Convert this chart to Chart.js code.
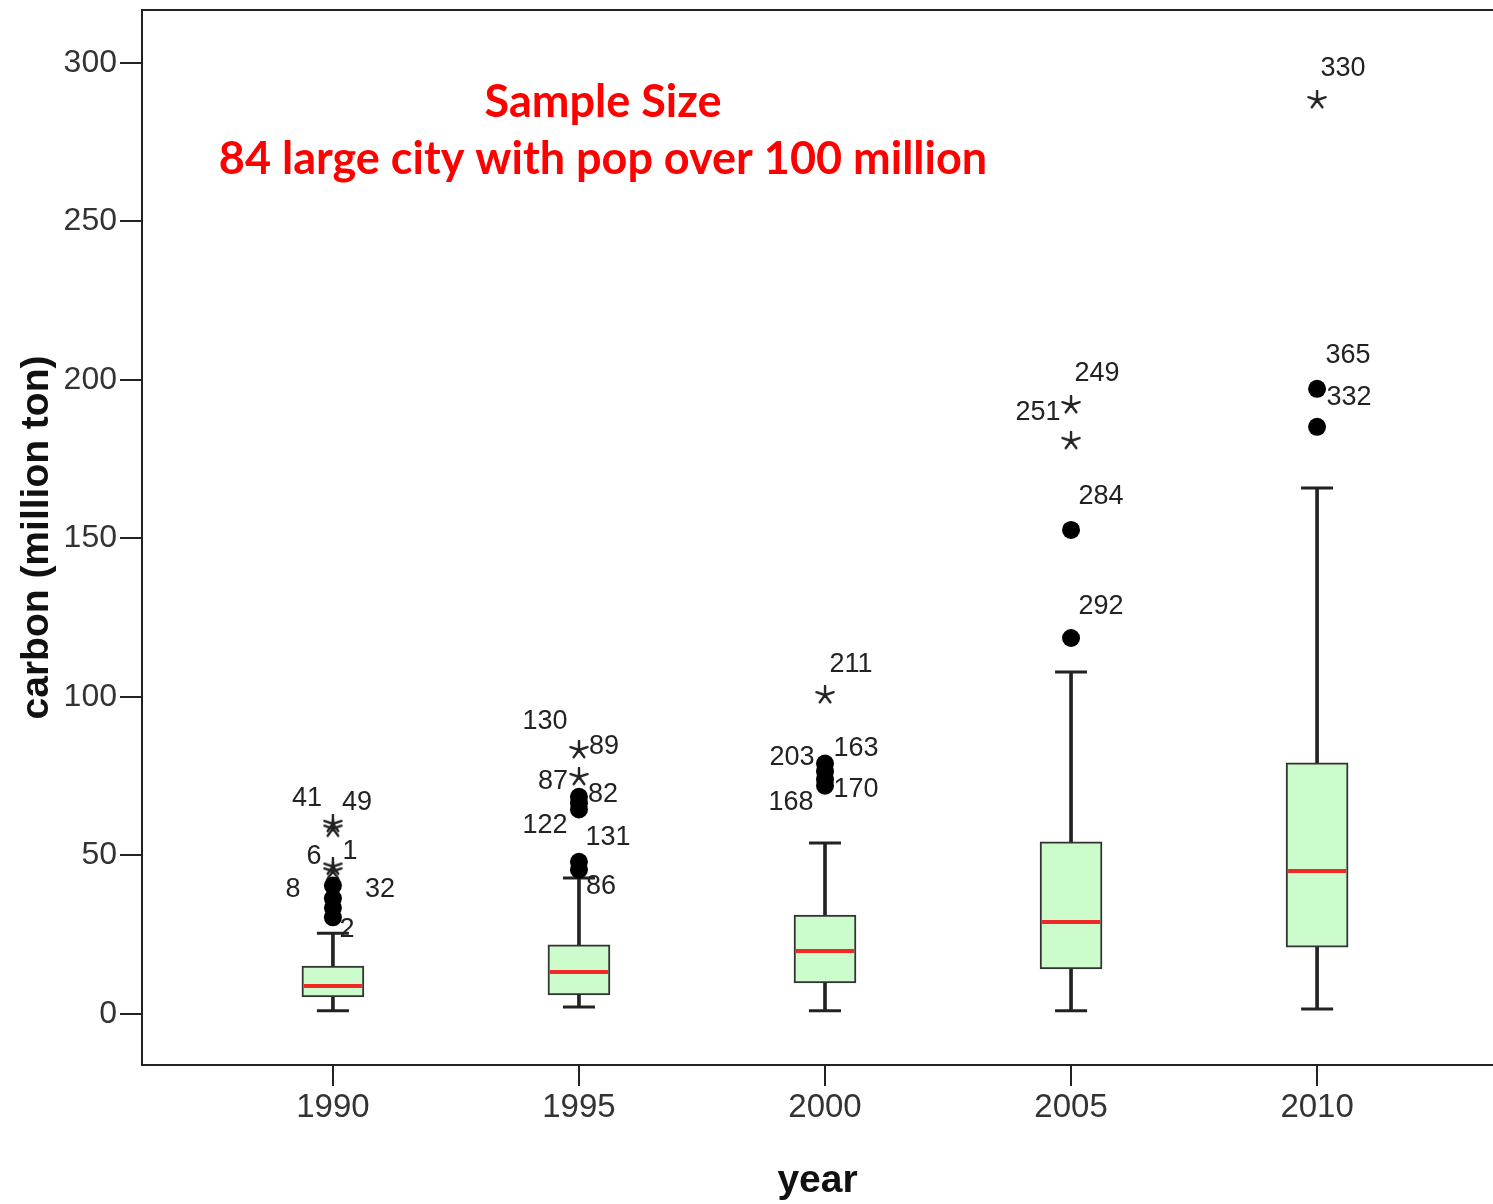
<!DOCTYPE html>
<html>
<head>
<meta charset="utf-8">
<script src="https://cdn.jsdelivr.net/npm/chart.js@4"></script>
<style>
  html, body { margin: 0; padding: 0; background: #fff; }
  #chart { display: block; }
</style>
</head>
<body>
<canvas id="chart" width="1493" height="1204"></canvas>
<script>
// box plot of carbon emissions per year (SPSS style)

const years = ["1990", "1995", "2000", "2005", "2010"];

const whiskerLow  = [1.0, 2.2, 1.0, 1.0, 1.6];
const q1          = [5.4, 6.0, 9.8, 14.2, 21.1];
const median      = [8.8, 13.2, 19.9, 29.0, 45.1];
const q3          = [15.1, 21.8, 31.2, 54.3, 79.2];
const whiskerHigh = [25.5, 42.9, 53.9, 107.9, 165.9];

// outliers (circles): [year index, value]
const outliers = [
  [0, 40.5], [0, 36.5], [0, 33.5], [0, 30.5],
  [1, 68.5], [1, 66.5], [1, 64.5], [1, 48.0], [1, 45.5],
  [2, 79.0], [2, 76.5], [2, 74.0], [2, 72.0],
  [3, 152.7], [3, 118.6],
  [4, 197.2], [4, 185.2],
];

// extremes (stars): [year index, value]
const extremes = [
  [0, 60.0], [0, 58.5], [0, 46.5], [0, 45.0],
  [1, 83.3], [1, 74.8],
  [2, 100.6],
  [3, 192.1], [3, 180.8],
  [4, 288.3],
];

// case labels: [year index, value at label, case id]
const caseLabels = [
  [0, 68.1, "41"], [0, 66.6, "49"], [0, 49.8, "6"], [0, 51.1, "1"],
  [0, 39.4, "8"], [0, 39.4, "32"], [0, 26.5, "2"],
  [1, 92.4, "130"], [1, 84.2, "89"], [1, 73.2, "87"], [1, 69.1, "82"],
  [1, 59.3, "122"], [1, 55.5, "131"], [1, 40.1, "86"],
  [2, 110.1, "211"], [2, 80.8, "203"], [2, 83.6, "163"], [2, 66.6, "168"], [2, 70.7, "170"],
  [3, 201.9, "249"], [3, 189.6, "251"], [3, 163.1, "284"], [3, 128.4, "292"],
  [4, 298.1, "330"], [4, 207.6, "365"], [4, 194.6, "332"],
];
// horizontal pixel offset of each case label from its box centre
const caseLabelDx = [
  -26, 24, -19, 17, -40, 47, 14,
  -34, 25, -26, 24, -34, 29, 22,
  26, -33, 31, -34, 31,
  26, -33, 30, 30,
  26, 31, 32,
];

const titleLines = ["Sample Size", "84 large city with pop over 100 million"];

const INK = "#222";
const BOX_FILL = "#ccfccc";
const MEDIAN = "#f02828";

function makeStar(size) {
  const c = document.createElement("canvas");
  c.width = size; c.height = size;
  const g = c.getContext("2d");
  const r = size / 2 - 1;
  g.strokeStyle = INK;
  g.lineWidth = 2.4;
  g.lineCap = "round";
  g.beginPath();
  for (let k = 0; k < 5; k++) {
    const a = -Math.PI / 2 + k * 2 * Math.PI / 5;
    g.moveTo(size / 2, size / 2);
    g.lineTo(size / 2 + r * Math.cos(a), size / 2 + r * Math.sin(a));
  }
  g.stroke();
  return c;
}

// scales keep their own fixed size, no extra label padding
const noPad = (s) => { s.paddingTop = 0; s.paddingBottom = 0; s.paddingLeft = 0; s.paddingRight = 0; };

const frame = {
  id: "frame",
  afterDraw(chart) {
    const { ctx, chartArea } = chart;
    ctx.save();
    ctx.strokeStyle = INK;
    ctx.lineWidth = 2;
    ctx.beginPath();
    ctx.moveTo(chartArea.left, chartArea.top);
    ctx.lineTo(chartArea.right, chartArea.top);
    ctx.stroke();
    ctx.restore();
  },
};

const caseText = {
  id: "caseText",
  afterDatasetsDraw(chart) {
    const { ctx } = chart;
    const xs = chart.scales.x, ys = chart.scales.y;
    ctx.save();
    ctx.font = "27px 'Liberation Sans', Arial, sans-serif";
    ctx.fillStyle = INK;
    ctx.textAlign = "center";
    ctx.textBaseline = "middle";
    caseLabels.forEach(([i, v, id], k) => {
      ctx.fillText(id, xs.getPixelForValue(i) + caseLabelDx[k], ys.getPixelForValue(v));
    });
    ctx.restore();
  },
};

const sampleTitle = {
  id: "sampleTitle",
  afterDraw(chart) {
    const { ctx } = chart;
    ctx.save();
    ctx.fillStyle = "#ff0000";
    ctx.textAlign = "center";
    ctx.textBaseline = "middle";
    ctx.font = "bold 100px Lato, 'Open Sans', sans-serif";
    const size = Math.round(100 * 760 / ctx.measureText(titleLines[1]).width);
    ctx.font = `bold ${size}px Lato, 'Open Sans', sans-serif`;
    ctx.fillText(titleLines[0], 603, 102);
    ctx.fillText(titleLines[1], 603, 159);
    ctx.restore();
  },
};

const tickFont = { family: "'Liberation Sans', Arial, sans-serif", size: 32 };

new Chart(document.getElementById("chart"), {
  type: "bar",
  data: {
    datasets: [
      {
        label: "whisker",
        data: years.map((_, i) => ({ x: i, y: [whiskerLow[i], whiskerHigh[i]] })),
        backgroundColor: INK,
        borderWidth: 0,
        barThickness: 3,
        grouped: false,
        order: 5,
      },
      {
        label: "box",
        data: years.map((_, i) => ({ x: i, y: [q1[i], q3[i]] })),
        backgroundColor: BOX_FILL,
        borderColor: "#333",
        borderWidth: 2,
        borderSkipped: false,
        barThickness: 62,
        grouped: false,
        order: 4,
      },
      {
        type: "scatter",
        label: "caps",
        data: years.flatMap((_, i) => [{ x: i, y: whiskerLow[i] }, { x: i, y: whiskerHigh[i] }]),
        pointStyle: "line",
        pointRadius: 16,
        borderColor: INK,
        borderWidth: 3,
        order: 3,
      },
      {
        type: "scatter",
        label: "median",
        data: years.map((_, i) => ({ x: i, y: median[i] })),
        pointStyle: "line",
        pointRadius: 29,
        borderColor: MEDIAN,
        borderWidth: 4,
        order: 2,
      },
      {
        type: "scatter",
        label: "outliers",
        data: outliers.map(([i, v]) => ({ x: i, y: v })),
        pointStyle: "circle",
        pointRadius: 9,
        backgroundColor: "#000",
        borderColor: "#000",
        borderWidth: 0,
        order: 1,
      },
      {
        type: "scatter",
        label: "extremes",
        data: extremes.map(([i, v]) => ({ x: i, y: v })),
        pointStyle: makeStar(20),
        order: 1,
      },
    ],
  },
  options: {
    responsive: false,
    animation: false,
    layout: { autoPadding: false, padding: { top: 10, right: 0, left: 0, bottom: 0 } },
    plugins: {
      legend: { display: false },
      tooltip: { enabled: false },
    },
    scales: {
      x: {
        type: "linear",
        offset: false,
        min: -0.776,
        max: 4.715,
        afterBuildTicks: (s) => { s.ticks = years.map((_, i) => ({ value: i })); },
        afterFit: (s) => { s.height = 139; noPad(s); },
        ticks: { callback: (v) => years[v], font: { ...tickFont, size: 33 }, color: "#333", padding: 2, maxRotation: 0 },
        grid: { offset: false, drawOnChartArea: false, drawTicks: true, tickLength: 21, color: INK, lineWidth: 2 },
        border: { display: true, color: INK, width: 2 },
        title: {
          display: true, text: "year", color: "#111",
          font: { family: "'Liberation Sans', Arial, sans-serif", size: 39, weight: "bold", lineHeight: 1 },
          padding: { top: 0, bottom: 3 },
        },
      },
      y: {
        min: -16.1,
        max: 316.7,
        afterBuildTicks: (s) => { s.ticks = [0, 50, 100, 150, 200, 250, 300].map((v) => ({ value: v })); },
        afterFit: (s) => { s.width = 142; noPad(s); },
        ticks: { font: tickFont, color: "#333", padding: 3 },
        grid: { drawOnChartArea: false, drawTicks: true, tickLength: 22, color: INK, lineWidth: 2 },
        border: { display: true, color: INK, width: 2 },
        title: {
          display: true, text: "carbon (million ton)", color: "#111",
          font: { family: "'Liberation Sans', Arial, sans-serif", size: 39, weight: "bold", lineHeight: 1 },
          padding: { top: 18, bottom: 0 },
        },
      },
    },
  },
  plugins: [frame, caseText, sampleTitle],
});
</script>
</body>
</html>
